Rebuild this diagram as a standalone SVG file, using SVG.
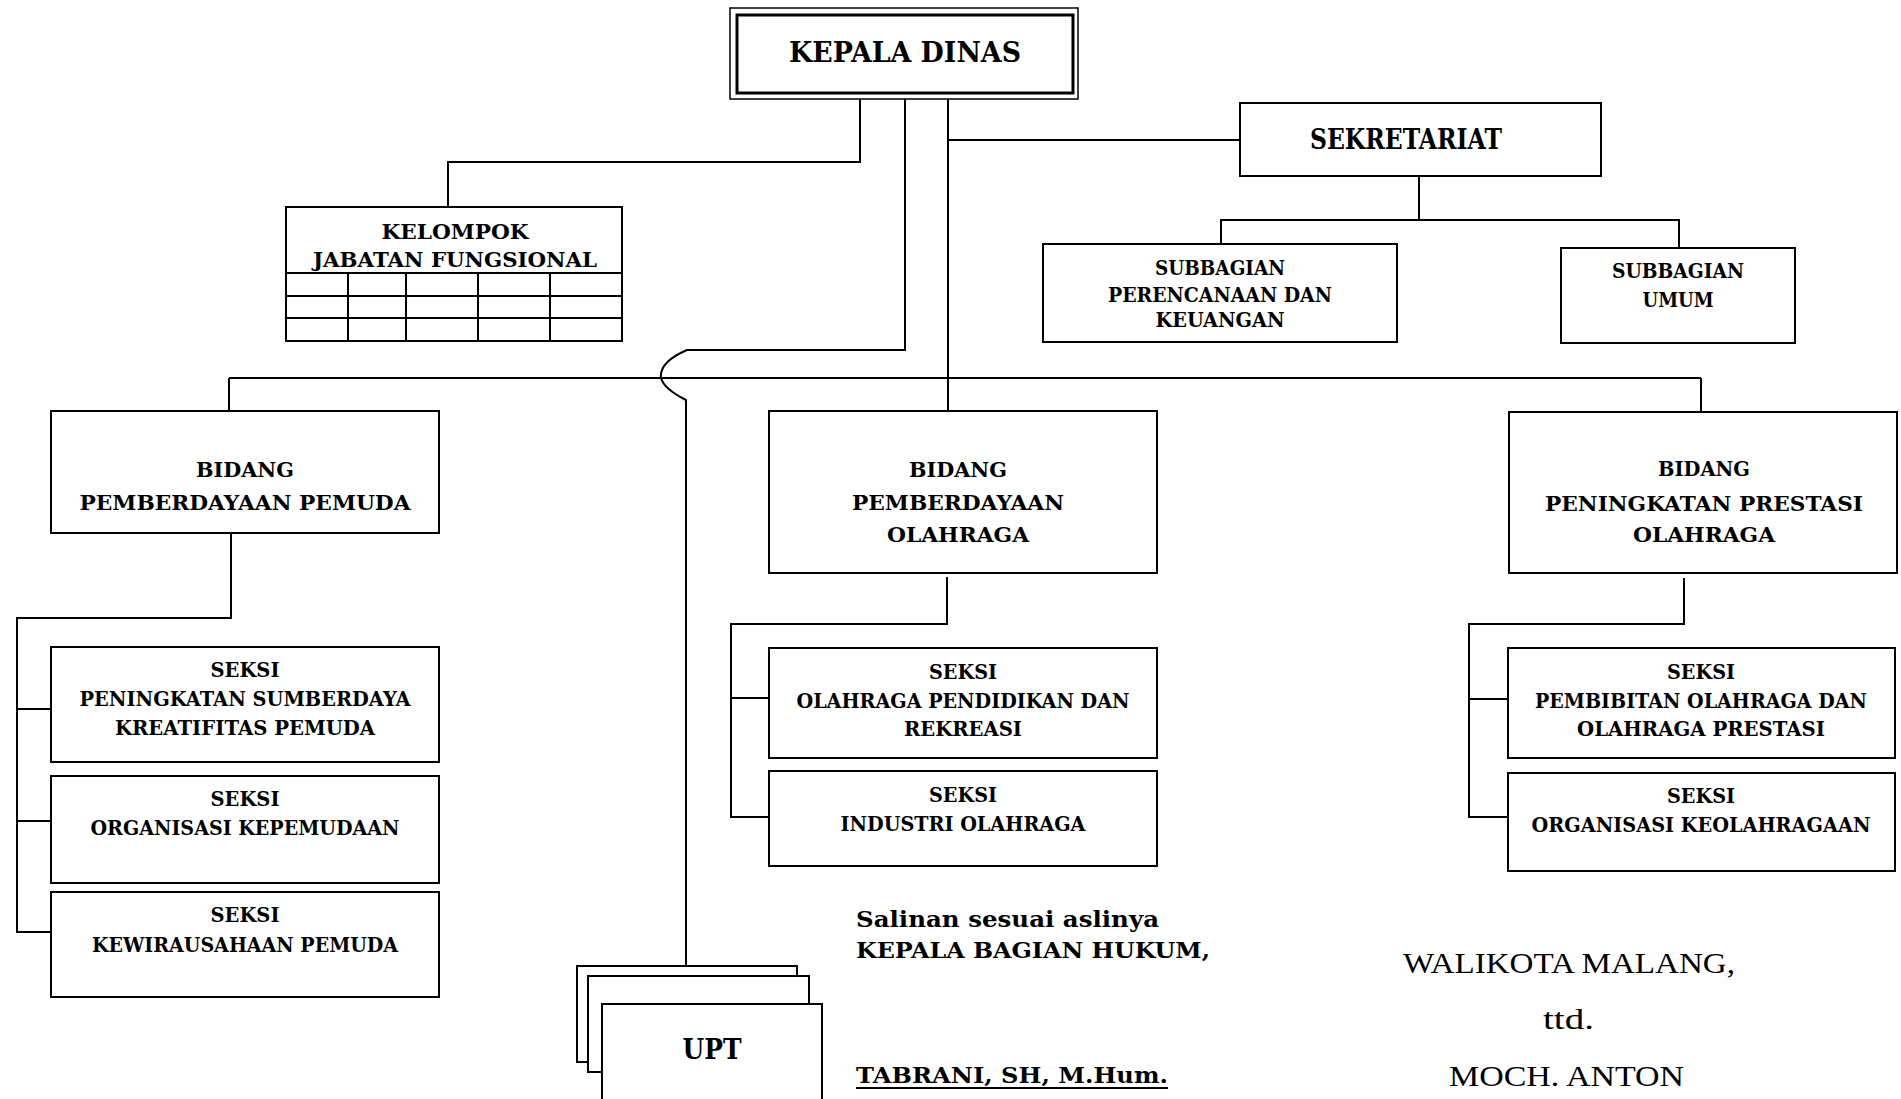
<svg xmlns="http://www.w3.org/2000/svg" width="1901" height="1099" viewBox="0 0 1901 1099">
<style>
  .box { fill: #ffffff; stroke: #000000; stroke-width: 2; }
  .ln { fill: none; stroke: #000000; stroke-width: 2; }
  .grid { fill: none; stroke: #000000; stroke-width: 2; }
  text { font-family: "DejaVu Serif", "Liberation Serif", serif; fill: #000000; }
  .b { font-weight: bold; text-anchor: middle; }
  .bl { font-weight: bold; text-anchor: start; }
  .r { font-family: "Liberation Serif", "Times New Roman", serif; font-weight: normal; }
  .f25 { font-size: 28px; }
  .f18 { font-size: 20px; }
  .f19 { font-size: 21px; }
  .f21 { font-size: 23px; }
  .f30 { font-size: 30px; }
</style>
<rect width="1901" height="1099" fill="#ffffff"/>

<g id="connectors">
  <path class="ln" d="M860,99 V162 H448 V207"/>
  <path class="ln" d="M948,99 V411"/>
  <path class="ln" d="M948,140 H1240"/>
  <path class="ln" d="M905,99 V350 H687 Q659,362 661,378 Q664,389 686,400 V966"/>
  <path class="ln" d="M229,378 H1701"/>
  <path class="ln" d="M229,378 V411"/>
  <path class="ln" d="M1701,378 V412"/>
  <path class="ln" d="M1419,176 V220"/>
  <path class="ln" d="M1221,244 V220 H1679 V248"/>
  <path class="ln" d="M231,533 V618 H17 V932 H51"/>
  <path class="ln" d="M17,709 H51"/>
  <path class="ln" d="M17,821 H51"/>
  <path class="ln" d="M947,577 V624 H731 V817 H769"/>
  <path class="ln" d="M731,698 H769"/>
  <path class="ln" d="M1684,578 V624 H1469 V817 H1508"/>
  <path class="ln" d="M1469,699 H1508"/>
</g>

<g id="kepala-dinas">
  <rect x="730" y="8" width="348" height="91" fill="#ffffff" stroke="#000" stroke-width="1.5"/>
  <rect x="737" y="15" width="336" height="78" fill="none" stroke="#000" stroke-width="3"/>
  <text class="b f25" x="905" y="62" textLength="232" lengthAdjust="spacingAndGlyphs">KEPALA DINAS</text>
</g>

<g id="sekretariat">
  <rect class="box" x="1240" y="103" width="361" height="73"/>
  <text class="b f25" x="1406" y="149" textLength="192" lengthAdjust="spacingAndGlyphs">SEKRETARIAT</text>
</g>

<g id="kelompok-jabatan-fungsional">
  <rect class="box" x="286" y="207" width="336" height="134"/>
  <path class="grid" d="M286,273 H622 M286,296 H622 M286,318 H622 M348,273 V341 M406,273 V341 M478,273 V341 M550,273 V341"/>
  <text class="b f18" x="455" y="239" textLength="147" lengthAdjust="spacingAndGlyphs">KELOMPOK</text>
  <text class="b f18" x="455" y="267" textLength="284" lengthAdjust="spacingAndGlyphs">JABATAN FUNGSIONAL</text>
</g>

<g id="subbagian-perencanaan">
  <rect class="box" x="1043" y="244" width="354" height="98"/>
  <text class="b f18" x="1220" y="275" textLength="130" lengthAdjust="spacingAndGlyphs">SUBBAGIAN</text>
  <text class="b f18" x="1220" y="302" textLength="224" lengthAdjust="spacingAndGlyphs">PERENCANAAN DAN</text>
  <text class="b f18" x="1220" y="327" textLength="129" lengthAdjust="spacingAndGlyphs">KEUANGAN</text>
</g>

<g id="subbagian-umum">
  <rect class="box" x="1561" y="248" width="234" height="95"/>
  <text class="b f18" x="1678" y="278" textLength="132" lengthAdjust="spacingAndGlyphs">SUBBAGIAN</text>
  <text class="b f18" x="1678" y="307" textLength="71" lengthAdjust="spacingAndGlyphs">UMUM</text>
</g>

<g id="bidang-pemuda">
  <rect class="box" x="51" y="411" width="388" height="122"/>
  <text class="b f19" x="245" y="477" textLength="98" lengthAdjust="spacingAndGlyphs">BIDANG</text>
  <text class="b f19" x="245" y="510" textLength="331" lengthAdjust="spacingAndGlyphs">PEMBERDAYAAN PEMUDA</text>
</g>

<g id="bidang-olahraga">
  <rect class="box" x="769" y="411" width="388" height="162"/>
  <text class="b f19" x="958" y="477" textLength="98" lengthAdjust="spacingAndGlyphs">BIDANG</text>
  <text class="b f19" x="958" y="510" textLength="212" lengthAdjust="spacingAndGlyphs">PEMBERDAYAAN</text>
  <text class="b f19" x="958" y="542" textLength="142" lengthAdjust="spacingAndGlyphs">OLAHRAGA</text>
</g>

<g id="bidang-prestasi">
  <rect class="box" x="1509" y="412" width="388" height="161"/>
  <text class="b f19" x="1704" y="476" textLength="92" lengthAdjust="spacingAndGlyphs">BIDANG</text>
  <text class="b f19" x="1704" y="511" textLength="318" lengthAdjust="spacingAndGlyphs">PENINGKATAN PRESTASI</text>
  <text class="b f19" x="1704" y="542" textLength="142" lengthAdjust="spacingAndGlyphs">OLAHRAGA</text>
</g>

<g id="seksi-sumberdaya">
  <rect class="box" x="51" y="647" width="388" height="115"/>
  <text class="b f18" x="245" y="677" textLength="69" lengthAdjust="spacingAndGlyphs">SEKSI</text>
  <text class="b f18" x="245" y="706" textLength="331" lengthAdjust="spacingAndGlyphs">PENINGKATAN SUMBERDAYA</text>
  <text class="b f18" x="245" y="735" textLength="260" lengthAdjust="spacingAndGlyphs">KREATIFITAS PEMUDA</text>
</g>

<g id="seksi-organisasi-kepemudaan">
  <rect class="box" x="51" y="776" width="388" height="107"/>
  <text class="b f18" x="245" y="806" textLength="69" lengthAdjust="spacingAndGlyphs">SEKSI</text>
  <text class="b f18" x="245" y="835" textLength="309" lengthAdjust="spacingAndGlyphs">ORGANISASI KEPEMUDAAN</text>
</g>

<g id="seksi-kewirausahaan">
  <rect class="box" x="51" y="892" width="388" height="105"/>
  <text class="b f18" x="245" y="922" textLength="69" lengthAdjust="spacingAndGlyphs">SEKSI</text>
  <text class="b f18" x="245" y="952" textLength="306" lengthAdjust="spacingAndGlyphs">KEWIRAUSAHAAN PEMUDA</text>
</g>

<g id="seksi-pendidikan">
  <rect class="box" x="769" y="648" width="388" height="110"/>
  <text class="b f18" x="963" y="679" textLength="68" lengthAdjust="spacingAndGlyphs">SEKSI</text>
  <text class="b f18" x="963" y="708" textLength="333" lengthAdjust="spacingAndGlyphs">OLAHRAGA PENDIDIKAN DAN</text>
  <text class="b f18" x="963" y="736" textLength="118" lengthAdjust="spacingAndGlyphs">REKREASI</text>
</g>

<g id="seksi-industri">
  <rect class="box" x="769" y="771" width="388" height="95"/>
  <text class="b f18" x="963" y="802" textLength="68" lengthAdjust="spacingAndGlyphs">SEKSI</text>
  <text class="b f18" x="963" y="831" textLength="245" lengthAdjust="spacingAndGlyphs">INDUSTRI OLAHRAGA</text>
</g>

<g id="seksi-pembibitan">
  <rect class="box" x="1508" y="648" width="387" height="110"/>
  <text class="b f18" x="1701" y="679" textLength="68" lengthAdjust="spacingAndGlyphs">SEKSI</text>
  <text class="b f18" x="1701" y="708" textLength="332" lengthAdjust="spacingAndGlyphs">PEMBIBITAN OLAHRAGA DAN</text>
  <text class="b f18" x="1701" y="736" textLength="248" lengthAdjust="spacingAndGlyphs">OLAHRAGA PRESTASI</text>
</g>

<g id="seksi-keolahragaan">
  <rect class="box" x="1508" y="773" width="387" height="98"/>
  <text class="b f18" x="1701" y="803" textLength="68" lengthAdjust="spacingAndGlyphs">SEKSI</text>
  <text class="b f18" x="1701" y="832" textLength="339" lengthAdjust="spacingAndGlyphs">ORGANISASI KEOLAHRAGAAN</text>
</g>

<g id="upt">
  <rect class="box" x="577" y="966" width="220" height="96"/>
  <rect class="box" x="588" y="976" width="221" height="96"/>
  <rect class="box" x="602" y="1004" width="220" height="110"/>
  <text class="b f25" x="712" y="1059" textLength="59" lengthAdjust="spacingAndGlyphs">UPT</text>
</g>

<g id="pengesahan">
  <text class="bl f21" x="856" y="927" textLength="303" lengthAdjust="spacingAndGlyphs">Salinan sesuai aslinya</text>
  <text class="bl f21" x="856" y="958" textLength="354" lengthAdjust="spacingAndGlyphs">KEPALA BAGIAN HUKUM,</text>
  <text class="bl f21" x="856" y="1083" textLength="312" lengthAdjust="spacingAndGlyphs">TABRANI, SH, M.Hum.</text>
  <line x1="856" y1="1088" x2="1168" y2="1088" stroke="#000" stroke-width="2"/>
</g>

<g id="walikota">
  <text class="r f30" x="1403" y="973" textLength="332" lengthAdjust="spacingAndGlyphs">WALIKOTA MALANG,</text>
  <text class="r f30" x="1543" y="1029" textLength="51" lengthAdjust="spacingAndGlyphs">ttd.</text>
  <text class="r f30" x="1449" y="1086" textLength="235" lengthAdjust="spacingAndGlyphs">MOCH. ANTON</text>
</g>
</svg>
